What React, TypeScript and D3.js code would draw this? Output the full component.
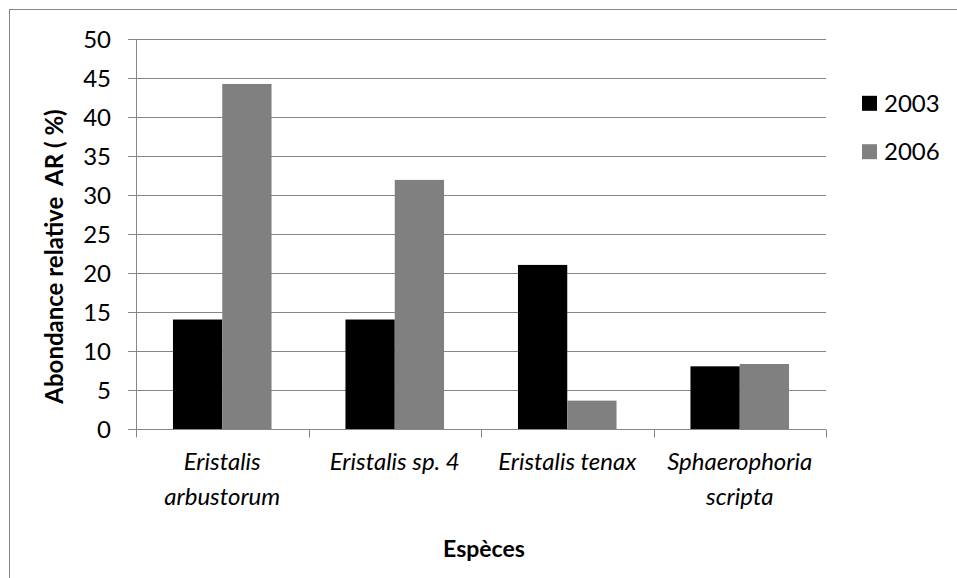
import React from "react";
import * as d3 from "d3";

const categories: string[][] = [
  ["Eristalis", "arbustorum"],
  ["Eristalis sp. 4"],
  ["Eristalis tenax"],
  ["Sphaerophoria", "scripta"],
];
const seriesNames = ["2003", "2006"];
const values2003 = [14.1, 14.1, 21.1, 8.1];
const values2006 = [44.3, 32.0, 3.7, 8.4];
const yTicks = [0, 5, 10, 15, 20, 25, 30, 35, 40, 45, 50];
const colors = ["#000000", "#808080"];

const W = 957;
const H = 578;
const plot = { left: 136, right: 826, top: 39.5, bottom: 429.5 };
const FONT = "Lato, 'Open Sans', sans-serif";
const GRID = "#868686";

export default function App() {
  const x = d3
    .scaleBand<number>()
    .domain(categories.map((_, i) => i))
    .range([plot.left, plot.right])
    .padding(0);
  const bw = x.bandwidth();
  const gap = (bw / 3.5) * 1.5;
  const xs = d3
    .scaleBand<number>()
    .domain([0, 1])
    .range([gap / 2, bw - gap / 2])
    .padding(0);
  const y = d3.scaleLinear().domain([0, 50]).range([plot.bottom, plot.top]);
  const series = [values2003, values2006];

  return (
    <svg
      width={W}
      height={H}
      style={{ position: "absolute", left: 0, top: 0, background: "#fff" }}
    >
      <rect x={0} y={0} width={W} height={H} fill="#fff" />
      <rect x={9.5} y={9.5} width={W + 20} height={H + 20} fill="none" stroke={GRID} strokeWidth={1} />
      {yTicks.map((t) => (
        <line key={"g" + t} x1={plot.left - 8} x2={plot.right} y1={y(t)} y2={y(t)} stroke={GRID} strokeWidth={1} />
      ))}
      {series.map((vals, s) =>
        vals.map((v, i) => (
          <rect
            key={`b${s}-${i}`}
            x={(x(i) as number) + (xs(s) as number)}
            y={y(v)}
            width={xs.bandwidth()}
            height={y(0) - y(v)}
            fill={colors[s]}
          />
        ))
      )}
      <line x1={plot.left + 0.5} x2={plot.left + 0.5} y1={plot.top} y2={plot.bottom} stroke={GRID} strokeWidth={1} />
      <line x1={plot.left} x2={plot.right} y1={plot.bottom} y2={plot.bottom} stroke={GRID} strokeWidth={1} />
      {d3.range(categories.length + 1).map((i) => {
        const xx = Math.round(plot.left + i * bw) + 0.5;
        return <line key={"t" + i} x1={xx} x2={xx} y1={plot.bottom} y2={plot.bottom + 8} stroke={GRID} strokeWidth={1} />;
      })}
      {yTicks.map((t) => (
        <text key={"l" + t} x={111} y={y(t)} dy="0.36em" textAnchor="end" fontFamily={FONT} fontSize={24} fill="#000">
          {t}
        </text>
      ))}
      {categories.map((lines, i) => (
        <text key={"c" + i} textAnchor="middle" fontFamily={FONT} fontSize={24} fontStyle="italic" fill="#000">
          {lines.map((ln, k) => (
            <tspan key={k} x={(x(i) as number) + bw / 2} y={470 + k * 35}>
              {ln}
            </tspan>
          ))}
        </text>
      ))}
      <text
        transform="translate(63,256.5) rotate(-90)"
        textAnchor="middle"
        fontFamily={FONT}
        fontSize={24}
        fontWeight="bold"
        fill="#000"
        style={{ whiteSpace: "pre" }}
      >
        {"Abondance relative  AR ( %)"}
      </text>
      <text x={484} y={557} textAnchor="middle" fontFamily={FONT} fontSize={23} fontWeight="bold" fill="#000">
        Espèces
      </text>
      {seriesNames.map((n, s) => {
        const cy = 103.3 + s * 48.4;
        return (
          <g key={"lg" + s}>
            <rect x={862} y={cy - 7.5} width={15} height={15} fill={colors[s]} />
            <text x={884} y={cy} dy="0.36em" fontFamily={FONT} fontSize={24} fill="#000">
              {n}
            </text>
          </g>
        );
      })}
    </svg>
  );
}
